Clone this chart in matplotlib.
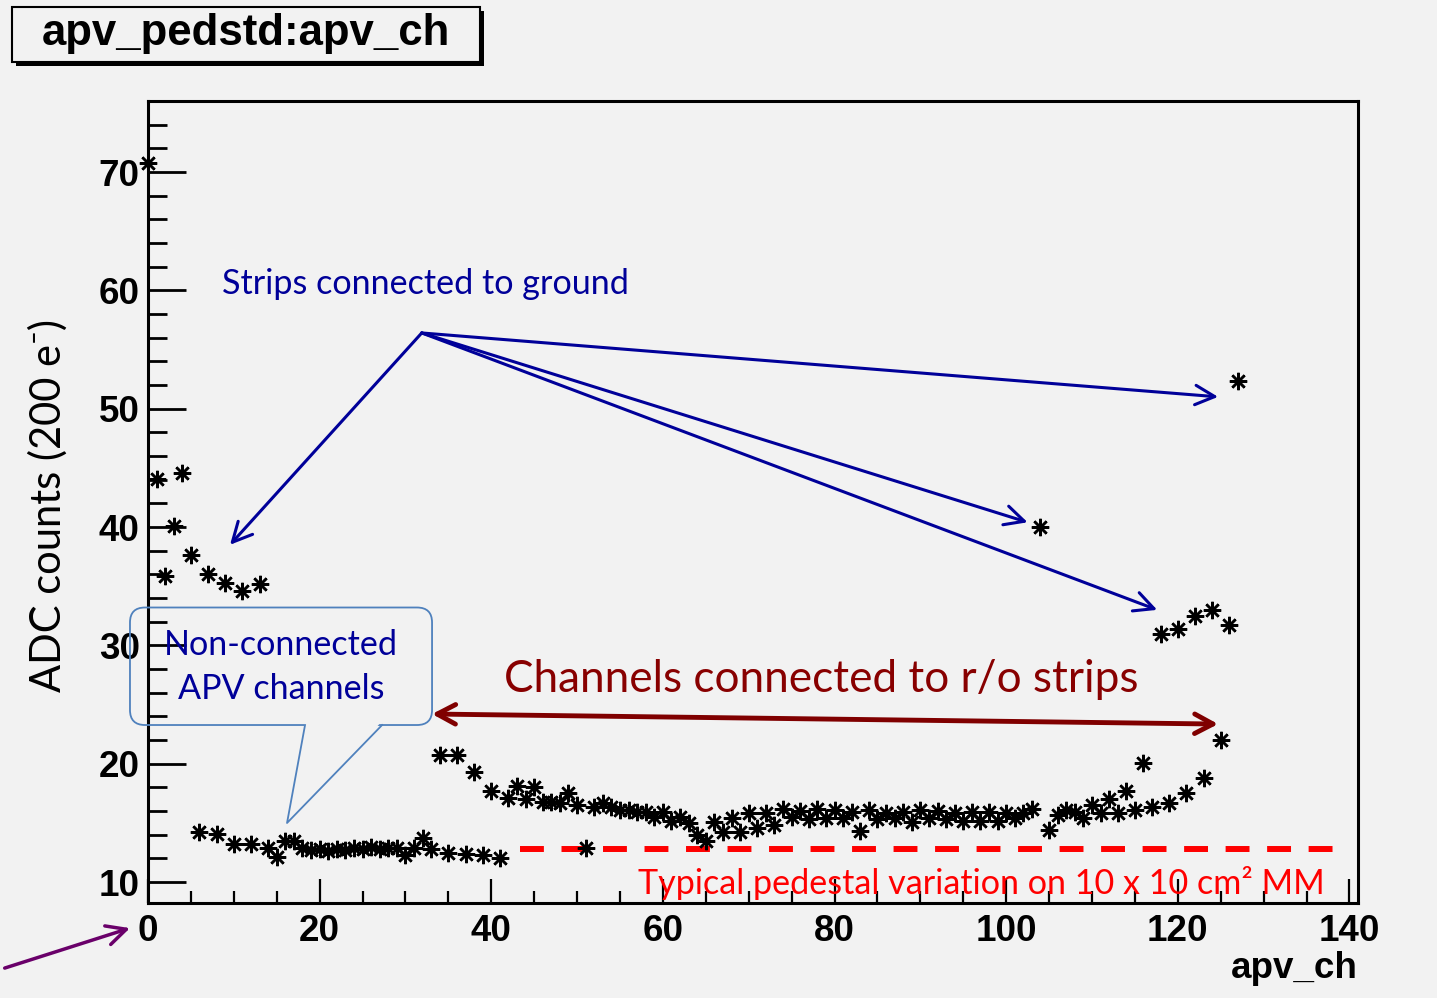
import matplotlib.pyplot as plt
import numpy as np
from matplotlib.patches import FancyBboxPatch, Polygon, Rectangle
from matplotlib.ticker import MultipleLocator

# pedestal std per APV channel
apv_ch = list(range(128))
apv_pedstd = [70.8, 44.1, 35.9, 40.1, 44.6, 37.6, 14.2, 36.0, 14.1, 35.3,
              13.2, 34.6, 13.2, 35.2, 12.9, 12.1, 13.5, 13.5, 12.9, 12.7,
              12.8, 12.6, 12.8, 12.7, 12.9, 12.8, 13.0, 12.8, 12.9, 12.9,
              12.3, 12.9, 13.7, 12.8, 20.7, 12.45, 20.7, 12.4, 19.3, 12.3,
              17.7, 12.0, 17.1, 18.1, 17.0, 18.0, 16.8, 16.75, 16.7, 17.5,
              16.5, 12.9, 16.3, 16.7, 16.3, 16.1, 16.1, 15.9, 15.9, 15.5,
              15.9, 15.15, 15.5, 15.0, 14.0, 13.5, 15.1, 14.2, 15.4, 14.2,
              15.8, 14.6, 15.8, 14.8, 16.2, 15.5, 16.0, 15.3, 16.2, 15.4,
              16.1, 15.4, 15.9, 14.3, 16.1, 15.3, 15.8, 15.4, 15.9, 15.1,
              16.1, 15.4, 16.0, 15.3, 15.8, 15.2, 15.9, 15.15, 15.9, 15.2,
              15.8, 15.4, 15.8, 16.2, 40.0, 14.4, 15.65, 16.1, 15.9, 15.4,
              16.5, 15.8, 17.0, 15.8, 17.7, 16.1, 20.1, 16.3, 31.0, 16.7,
              31.4, 17.5, 32.5, 18.8, 33.0, 22.0, 31.7, 52.3]

typical_level = 12.8

bg = "#f2f2f2"
blue = "#000099"
darkred = "#880000"
ann_font = ["Lato", "DejaVu Sans"]

plt.rcParams["font.family"] = ["Liberation Sans", "DejaVu Sans"]
plt.rcParams["font.weight"] = "bold"

fig = plt.figure(figsize=(14.37, 9.98), dpi=100, facecolor=bg)
ax = fig.add_axes([148/1437, 95/998, 1210/1437, 802/998])
ax.set_facecolor(bg)

ax.plot(apv_ch, apv_pedstd, linestyle="none", marker=(8, 2, 0), markersize=12.5,
        markeredgewidth=1.8, color="black", clip_on=False, zorder=4)

ax.set_xlim(0, 141)
ax.set_ylim(8.23, 76)
ax.xaxis.set_major_locator(MultipleLocator(20))
ax.xaxis.set_minor_locator(MultipleLocator(5))
ax.yaxis.set_major_locator(MultipleLocator(10))
ax.yaxis.set_minor_locator(MultipleLocator(2))
ax.tick_params(axis="y", which="major", direction="in", length=27, width=2, labelsize=26.5, pad=6)
ax.tick_params(axis="y", which="minor", direction="in", length=14, width=2)
ax.tick_params(axis="x", which="major", direction="in", length=17, width=1.6, labelsize=26.5, pad=8)
ax.tick_params(axis="x", which="minor", direction="in", length=9, width=1.6)
for s in ax.spines.values():
    s.set_linewidth(2.2)

# title box like ROOT's
fig.add_artist(Rectangle((16/1437, 1-66/998), 468/1437, 55/998, transform=fig.transFigure,
                         facecolor="black", edgecolor="none"))
fig.add_artist(Rectangle((12/1437, 1-62/998), 468/1437, 55/998, transform=fig.transFigure,
                         facecolor=bg, edgecolor="black", linewidth=1.5))
fig.text(246/1437, 1-34/998, "apv_pedstd:apv_ch", ha="center", va="center", fontsize=31.5)
fig.text(1358/1437, 1-968/998, "apv_ch", ha="right", va="center", fontsize=26.5)
fig.text(48/1437, 1-505/998, "ADC counts (200 e\u207b)", rotation=90, ha="center", va="center",
         fontsize=30, fontweight="normal", family=ann_font)

# strips connected to ground
ax.text(8.6, 60.5, "Strips connected to ground", color=blue, fontsize=24.6, fontweight="normal",
        family=ann_font, va="center")
origin = (31.9, 56.4)
for target in [(9.56, 38.5), (124.7, 51.0), (102.5, 40.4), (117.6, 33.0)]:
    ax.annotate("", xy=target, xytext=origin,
                arrowprops=dict(arrowstyle="->,head_length=0.7,head_width=0.35", color=blue,
                                lw=2.2, mutation_scale=20, shrinkA=0, shrinkB=0))

# channels connected to r/o strips
ax.text(78.4, 27.1, "Channels connected to r/o strips", color=darkred, fontsize=31.8,
        fontweight="normal", family=ann_font, ha="center", va="center")
ax.annotate("", xy=(124.7, 23.35), xytext=(33.1, 24.2),
            arrowprops=dict(arrowstyle="<->,head_length=0.6,head_width=0.32", color="#800000",
                            lw=3.5, mutation_scale=22, shrinkA=0, shrinkB=0))

# typical pedestal level
ax.plot([43.4, 139.5], [typical_level, typical_level], color="red", lw=4.3, dashes=(4.0, 2.95), zorder=3)
ax.text(57.1, 9.9, "Typical pedestal variation on 10 x 10 cm\u00b2 MM", color="red", fontsize=24.6,
        fontweight="normal", family=ann_font, va="center", clip_on=False, zorder=5)

# callout for non-connected channels
box = FancyBboxPatch((-2.1, 23.27), 35.2, 9.93, boxstyle="round,pad=0,rounding_size=1.75",
                     mutation_aspect=0.725, facecolor="none", edgecolor="#4f81bd", lw=1.3,
                     clip_on=False, zorder=5)
ax.add_patch(box)
ax.add_patch(Polygon([(18.3, 23.6), (16.2, 14.99), (27.28, 23.6)], closed=True, facecolor=bg,
                     edgecolor="none", clip_on=False, zorder=5))
ax.plot([18.3, 16.2, 27.28], [23.27, 14.99, 23.27], color="#4f81bd", lw=1.3, clip_on=False, zorder=5)
ax.text(15.5, 28.2, "Non-connected\nAPV channels", color=blue, fontsize=24.6, fontweight="normal",
        family=ann_font, ha="center", va="center", linespacing=1.45, zorder=6)

# arrow pointing at channel 0
ax.annotate("", xy=(-2.1, 6.11), xytext=(-16.7, 2.73), annotation_clip=False,
            arrowprops=dict(arrowstyle="->,head_length=0.7,head_width=0.35", color="#6a006a",
                            lw=2.5, mutation_scale=20, shrinkA=0, shrinkB=0))

fig.savefig("out.png", dpi=100, facecolor=bg)
